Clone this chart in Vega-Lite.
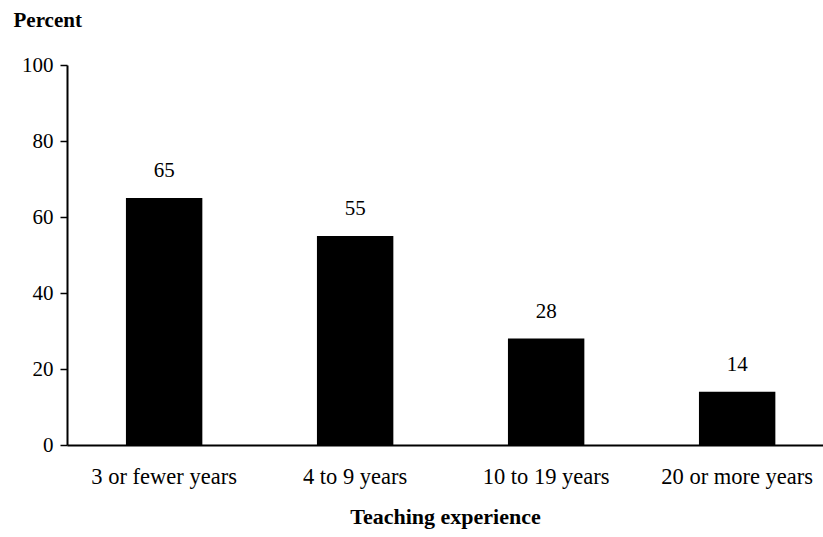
{
  "$schema": "https://vega.github.io/schema/vega-lite/v6.json",
  "autosize": "none",
  "width": 756,
  "height": 380,
  "padding": {"left": 67, "top": 65, "right": 0, "bottom": 92},
  "background": "white",
  "config": {
    "view": {"stroke": null},
    "font": "Liberation Serif"
  },
  "data": {
    "values": [
      {"experience": "3 or fewer years", "percent": 65},
      {"experience": "4 to 9 years", "percent": 55},
      {"experience": "10 to 19 years", "percent": 28},
      {"experience": "20 or more years", "percent": 14}
    ]
  },
  "encoding": {
    "x": {
      "field": "experience",
      "type": "nominal",
      "sort": null,
      "scale": {"paddingInner": 0.6, "paddingOuter": 0.279, "align": 0.553},
      "axis": {
        "title": "Teaching experience",
        "titleFont": "Liberation Serif",
        "titleFontSize": 22,
        "titleFontWeight": "bold",
        "titleColor": "black",
        "titlePadding": 19,
        "labelAngle": 0,
        "labelFont": "Liberation Serif",
        "labelFontSize": 22.5,
        "labelColor": "black",
        "labelPadding": 20,
        "ticks": false,
        "domainColor": "black",
        "domainWidth": 2,
        "grid": false
      }
    },
    "y": {
      "field": "percent",
      "type": "quantitative",
      "scale": {"domain": [0, 100], "nice": false},
      "axis": {
        "title": "Percent",
        "titleAngle": 0,
        "titleAlign": "left",
        "titleBaseline": "alphabetic",
        "titleX": -54,
        "titleY": -39,
        "titleFont": "Liberation Serif",
        "titleFontSize": 21,
        "titleFontWeight": "bold",
        "titleColor": "black",
        "values": [0, 20, 40, 60, 80, 100],
        "labelFont": "Liberation Serif",
        "labelFontSize": 21,
        "labelColor": "black",
        "labelPadding": 7,
        "tickSize": 7,
        "tickColor": "black",
        "tickWidth": 1.5,
        "domainColor": "black",
        "domainWidth": 2,
        "grid": false
      }
    }
  },
  "layer": [
    {"mark": {"type": "bar", "color": "black"}},
    {
      "mark": {"type": "text", "baseline": "alphabetic", "dy": -21, "fontSize": 21, "font": "Liberation Serif", "color": "black"},
      "encoding": {"text": {"field": "percent", "type": "quantitative"}}
    }
  ]
}
